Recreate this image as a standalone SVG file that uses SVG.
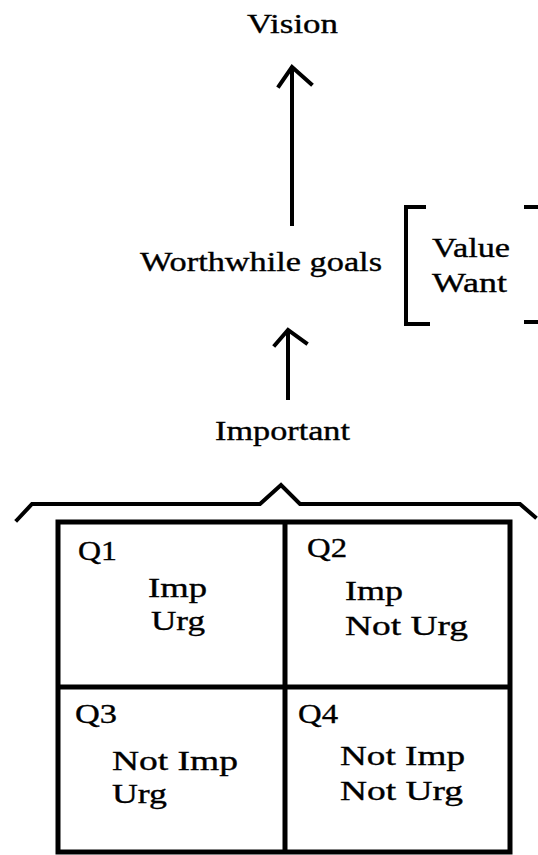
<svg xmlns="http://www.w3.org/2000/svg" width="538" height="855" viewBox="0 0 538 855">
<style>
text{font-family:"Liberation Serif","DejaVu Serif",serif;fill:#000;stroke:#000;stroke-width:0.35;font-size:27px}
.ln{fill:none;stroke:#000;stroke-width:4;stroke-linecap:square;stroke-linejoin:miter}
.box{fill:none;stroke:#000;stroke-width:5}
</style>
<rect width="538" height="855" fill="#fff"/>
<g id="vision"><text x="247" y="33" textLength="91" lengthAdjust="spacingAndGlyphs">Vision</text></g>
<g id="goals"><text x="140" y="271" textLength="242" lengthAdjust="spacingAndGlyphs">Worthwhile goals</text></g>
<g id="value-want">
<polyline class="ln" points="424,207 406,207 406,324 428,324"/>
<polyline class="ln" points="526,207 538,207"/>
<polyline class="ln" points="526,322 538,322"/>
<text x="432" y="257" textLength="78" lengthAdjust="spacingAndGlyphs">Value</text>
<text x="432" y="292" textLength="75" lengthAdjust="spacingAndGlyphs">Want</text>
</g>
<g id="important"><text x="215" y="440" textLength="135" lengthAdjust="spacingAndGlyphs">Important</text></g>
<g id="connectors">
<line class="ln" x1="292" y1="68" x2="292" y2="224"/>
<polyline class="ln" points="279,86 292,67 311,84"/>
<line class="ln" x1="288" y1="331" x2="288" y2="398"/>
<polyline class="ln" points="275,345 288,330 306,343"/>
</g>
<g id="brace"><polyline class="ln" points="17,520 32,504 260,504 281,485 300,504 520,504 535,517"/></g>
<g id="matrix">
<rect class="box" x="58" y="522" width="452" height="330"/>
<line class="box" x1="285" y1="522" x2="285" y2="852"/>
<line class="box" x1="58" y1="687" x2="510" y2="687"/>
<text x="78" y="560" textLength="39" lengthAdjust="spacingAndGlyphs">Q1</text>
<text x="148" y="597" textLength="59" lengthAdjust="spacingAndGlyphs">Imp</text>
<text x="151" y="630" textLength="54" lengthAdjust="spacingAndGlyphs">Urg</text>
<text x="307" y="557" textLength="40" lengthAdjust="spacingAndGlyphs">Q2</text>
<text x="345" y="600" textLength="58" lengthAdjust="spacingAndGlyphs">Imp</text>
<text x="345" y="635" textLength="123" lengthAdjust="spacingAndGlyphs">Not Urg</text>
<text x="75" y="723" textLength="42" lengthAdjust="spacingAndGlyphs">Q3</text>
<text x="112" y="770" textLength="126" lengthAdjust="spacingAndGlyphs">Not Imp</text>
<text x="112" y="803" textLength="55" lengthAdjust="spacingAndGlyphs">Urg</text>
<text x="298" y="723" textLength="40" lengthAdjust="spacingAndGlyphs">Q4</text>
<text x="340" y="765" textLength="125" lengthAdjust="spacingAndGlyphs">Not Imp</text>
<text x="340" y="800" textLength="123" lengthAdjust="spacingAndGlyphs">Not Urg</text>
</g>
</svg>
